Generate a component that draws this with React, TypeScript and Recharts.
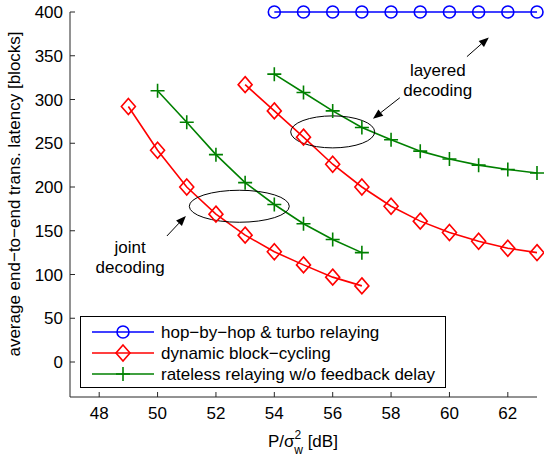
import { LineChart, Line, XAxis, YAxis, Legend, ReferenceDot, ReferenceLine } from "recharts";

// P/sigma_w^2 [dB] and average latency [blocks]
const snrHop = [54, 55, 56, 57, 58, 59, 60, 61, 62, 63];
const latHop = [400, 400, 400, 400, 400, 400, 400, 400, 400, 400];

const snrCycJoint = [49, 50, 51, 52, 53, 54, 55, 56, 57];
const latCycJoint = [292, 242, 200, 169, 145, 126, 111, 97, 87];

const snrCycLayered = [53, 54, 55, 56, 57, 58, 59, 60, 61, 62, 63];
const latCycLayered = [317, 287, 257, 226, 200, 178, 161, 148, 138, 130, 125];

const snrRatelessJoint = [50, 51, 52, 53, 54, 55, 56, 57];
const latRatelessJoint = [310, 274, 237, 205, 180, 158, 140, 125];

const snrRatelessLayered = [54, 55, 56, 57, 58, 59, 60, 61, 62, 63];
const latRatelessLayered = [329, 308, 287, 268, 254, 241, 232, 225, 220, 216];

const xTicks = [48, 50, 52, 54, 56, 58, 60, 62];
const yTicks = [0, 50, 100, 150, 200, 250, 300, 350, 400];

const legendNames = [
  "hop\u2212by\u2212hop & turbo relaying",
  "dynamic block\u2212cycling",
  "rateless relaying w/o feedback delay",
];

const toRows = (xs: number[], ys: number[]) => xs.map((x, i) => ({ x, y: ys[i] }));

const BLUE = "#0000ff";
const RED = "#ff0000";
const GREEN = "#008000";
const FONT = "'Liberation Sans', Arial, Helvetica, sans-serif";
const FS = 17;
const AXIS = "#262626";

// plot box (pixels)
const L = 70, T = 12, R = 537, B = 397;

const Circle = ({ cx, cy, c }: any) => (
  <circle cx={cx} cy={cy} r={6} fill="none" stroke={c} strokeWidth={1.6} />
);
const Diamond = ({ cx, cy, c }: any) => (
  <polygon
    points={`${cx},${cy - 8} ${cx + 7},${cy} ${cx},${cy + 8} ${cx - 7},${cy}`}
    fill="none"
    stroke={c}
    strokeWidth={1.6}
  />
);
const Plus = ({ cx, cy, c }: any) => (
  <path d={`M${cx - 7},${cy}H${cx + 7}M${cx},${cy - 7}V${cy + 7}`} stroke={c} strokeWidth={1.6} />
);

const marker = (Shape: any, c: string) => (p: any) => {
  if (p.cx == null || p.cy == null) return <g key={p.key} />;
  return <Shape key={p.key} cx={p.cx} cy={p.cy} c={c} />;
};

const BottomTick = (p: any) => (
  <g>
    <line x1={p.x} x2={p.x} y1={B} y2={B - 5} stroke={AXIS} />
    <text x={p.x} y={B + 22} textAnchor="middle" fontSize={FS} fontFamily={FONT} fill="#000">
      {p.payload.value}
    </text>
  </g>
);
const TopTick = (p: any) => <line x1={p.x} x2={p.x} y1={T} y2={T + 5} stroke={AXIS} />;
const LeftTick = (p: any) => (
  <g>
    <line x1={L} x2={L + 5} y1={p.y} y2={p.y} stroke={AXIS} />
    <text x={L - 7} y={p.y + 6} textAnchor="end" fontSize={FS} fontFamily={FONT} fill="#000">
      {p.payload.value}
    </text>
  </g>
);
const RightTick = (p: any) => <line x1={R} x2={R - 5} y1={p.y} y2={p.y} stroke={AXIS} />;

const Arrow = (p: any) => {
  const { x1, y1, x2, y2 } = p;
  const a = Math.atan2(y2 - y1, x2 - x1);
  const len = 10, w = 4;
  const bx = x2 - len * Math.cos(a), by = y2 - len * Math.sin(a);
  const px = -Math.sin(a) * w, py = Math.cos(a) * w;
  return (
    <g>
      <line x1={x1} y1={y1} x2={bx} y2={by} stroke="#000" strokeWidth={1} />
      <polygon points={`${x2},${y2} ${bx + px},${by + py} ${bx - px},${by - py}`} fill="#000" />
    </g>
  );
};

const ellipse = (rx: number, ry: number) => (p: any) => (
  <ellipse cx={p.cx} cy={p.cy} rx={rx} ry={ry} fill="none" stroke="#000" strokeWidth={1} />
);

const twoLines = (a: string, b: string) => (p: any) => (
  <text x={p.cx} y={p.cy} textAnchor="middle" fontSize={FS} fontFamily={FONT} fill="#000">
    <tspan x={p.cx} dy={-4}>{a}</tspan>
    <tspan x={p.cx} dy={20}>{b}</tspan>
  </text>
);

const LegendBox = () => {
  const shapes = [Circle, Diamond, Plus];
  const colors = [BLUE, RED, GREEN];
  return (
    <svg width={367} height={73}>
      <rect x={0.5} y={0.5} width={365} height={71} fill="#fff" stroke="#000" strokeWidth={1} />
      {legendNames.map((name, i) => {
        const S = shapes[i];
        const y = 16 + i * 21;
        return (
          <g key={name}>
            <line x1={12} x2={74} y1={y} y2={y} stroke={colors[i]} strokeWidth={1.6} />
            <S cx={43} cy={y} c={colors[i]} />
            <text x={81} y={y + 6} fontSize={FS} fontFamily={FONT} fill="#000">
              {name}
            </text>
          </g>
        );
      })}
    </svg>
  );
};

export default function App() {
  return (
    <div style={{ position: "absolute", left: 0, top: 0, background: "#fff" }}>
      <LineChart width={544} height={458} margin={{ top: T, right: 544 - R, left: 0, bottom: 0 }}>
        <XAxis
          type="number"
          dataKey="x"
          domain={[47, 63]}
          ticks={xTicks}
          height={458 - B}
          stroke={AXIS}
          tickLine={false}
          tick={BottomTick}
          interval={0}
          label={{
            content: () => (
              <text x={268} y={447} fontSize={FS} fontFamily={FONT} fill="#000">
                <tspan>P/σ</tspan>
                <tspan dy={-8} fontSize={12}>2</tspan>
                <tspan dx={-7} dy={15} fontSize={12}>w</tspan>
                <tspan dy={-7}> [dB]</tspan>
              </text>
            ),
          }}
        />
        <XAxis
          xAxisId="top"
          orientation="top"
          type="number"
          dataKey="x"
          domain={[47, 63]}
          ticks={xTicks}
          height={0}
          stroke={AXIS}
          tickLine={false}
          tick={TopTick}
          interval={0}
        />
        <YAxis
          type="number"
          domain={[-40, 400]}
          ticks={yTicks}
          width={L}
          stroke={AXIS}
          tickLine={false}
          tick={LeftTick}
          interval={0}
          label={{
            content: () => (
              <text
                x={20}
                y={194}
                transform="rotate(-90 20 194)"
                textAnchor="middle"
                fontSize={FS}
                fontFamily={FONT}
                fill="#000"
              >
                average end−to−end trans. latency [blocks]
              </text>
            ),
          }}
        />
        <YAxis
          yAxisId="right"
          orientation="right"
          type="number"
          domain={[-40, 400]}
          ticks={yTicks}
          width={0}
          stroke={AXIS}
          tickLine={false}
          tick={RightTick}
          interval={0}
        />
        <Legend
          layout="vertical"
          align="center"
          verticalAlign="middle"
          content={LegendBox}
          wrapperStyle={{ left: 80, top: 316, width: 367 }}
        />

        <Line data={toRows(snrCycJoint, latCycJoint)} dataKey="y" name={legendNames[1]} stroke={RED} strokeWidth={1.6} dot={marker(Diamond, RED)} isAnimationActive={false} />
        <Line data={toRows(snrCycLayered, latCycLayered)} dataKey="y" legendType="none" stroke={RED} strokeWidth={1.6} dot={marker(Diamond, RED)} isAnimationActive={false} />
        <Line data={toRows(snrRatelessJoint, latRatelessJoint)} dataKey="y" name={legendNames[2]} stroke={GREEN} strokeWidth={1.6} dot={marker(Plus, GREEN)} isAnimationActive={false} />
        <Line data={toRows(snrRatelessLayered, latRatelessLayered)} dataKey="y" legendType="none" stroke={GREEN} strokeWidth={1.6} dot={marker(Plus, GREEN)} isAnimationActive={false} />
        <Line data={toRows(snrHop, latHop)} dataKey="y" name={legendNames[0]} stroke={BLUE} strokeWidth={1.6} dot={marker(Circle, BLUE)} isAnimationActive={false} />

        <ReferenceDot x={52.8} y={178} shape={ellipse(50, 16)} />
        <ReferenceDot x={56} y={263} shape={ellipse(42, 16)} />
        <ReferenceDot x={49.06} y={120} shape={twoLines("joint", "decoding")} />
        <ReferenceDot x={59.6} y={322} shape={twoLines("layered", "decoding")} />
        <ReferenceLine segment={[{ x: 50.32, y: 144 }, { x: 50.97, y: 167 }]} shape={Arrow} />
        <ReferenceLine segment={[{ x: 58.3, y: 302 }, { x: 57.38, y: 278 }]} shape={Arrow} />
        <ReferenceLine segment={[{ x: 60.6, y: 349 }, { x: 61.35, y: 371 }]} shape={Arrow} />
      </LineChart>
    </div>
  );
}
